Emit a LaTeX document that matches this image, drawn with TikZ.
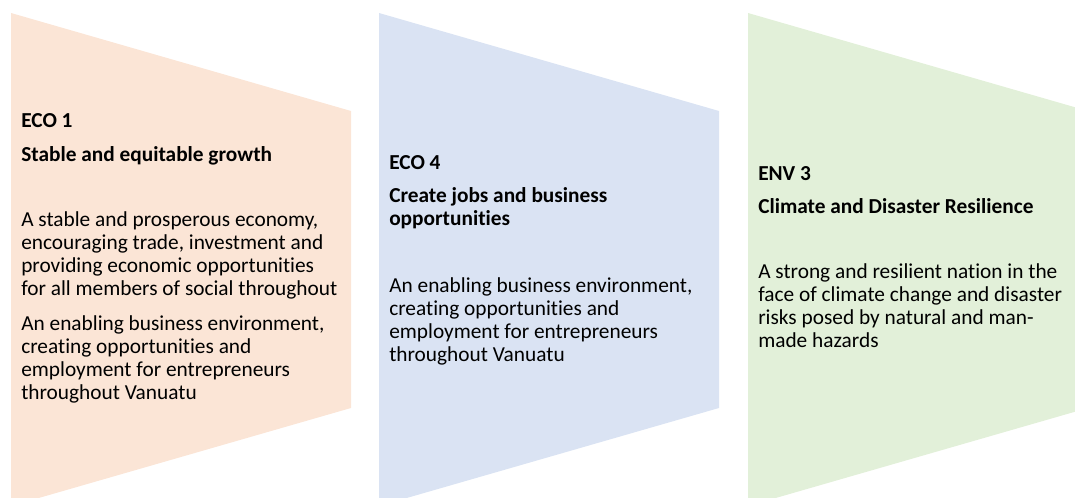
\documentclass[tikz,border=0pt]{standalone}
\usepackage{fontspec}
\setmainfont{Carlito}[RawFeature={-liga;-clig;-calt;-dlig}]
\definecolor{ecoA}{HTML}{FBE5D6}
\definecolor{ecoB}{HTML}{DAE3F3}
\definecolor{envC}{HTML}{E2F0D9}
\tikzset{
  goal/.style={anchor=base west,inner sep=0pt,align=left,text=black},
}
\begin{document}
\begin{tikzpicture}[x=0.75pt,y=-0.75pt,font=\fontsize{16pt}{17.25pt}\selectfont]
\useasboundingbox (0,0) rectangle (1075,498);
\clip (0,0) rectangle (1075,498);
% the three chevron panels
\foreach \x/\c in {11/ecoA,379/ecoB,748/envC}
  \fill[\c] (\x,13) -- ++(340,98) -- ++(0,297) -- ++(-340,98) -- cycle;
% panel texts (placed at the baseline of their last line)
\node[goal] (eco1) at (21,400) {\textbf{ECO 1}\\[8.25pt]
  \textbf{Stable and equitable growth}\\[31.5pt]
  A stable and prosperous economy,\\
  encouraging trade, investment and\\
  providing economic opportunities\\
  for all members of social throughout\\[9pt]
  An enabling business environment,\\
  creating opportunities and\\
  employment for entrepreneurs\\
  throughout Vanuatu};
\node[goal] (eco4) at (389,362) {\textbf{ECO 4}\\[7.5pt]
  \textbf{Create jobs and business}\\
  \textbf{opportunities}\\[33pt]
  An enabling business environment,\\
  creating opportunities and\\
  employment for entrepreneurs\\
  throughout Vanuatu};
\node[goal] (env3) at (758,348) {\textbf{ENV 3}\\[7.5pt]
  \textbf{Climate and Disaster Resilience}\\[31.5pt]
  A strong and resilient nation in the\\
  face of climate change and disaster\\
  risks posed by natural and man-\\
  made hazards};
\end{tikzpicture}
\end{document}
